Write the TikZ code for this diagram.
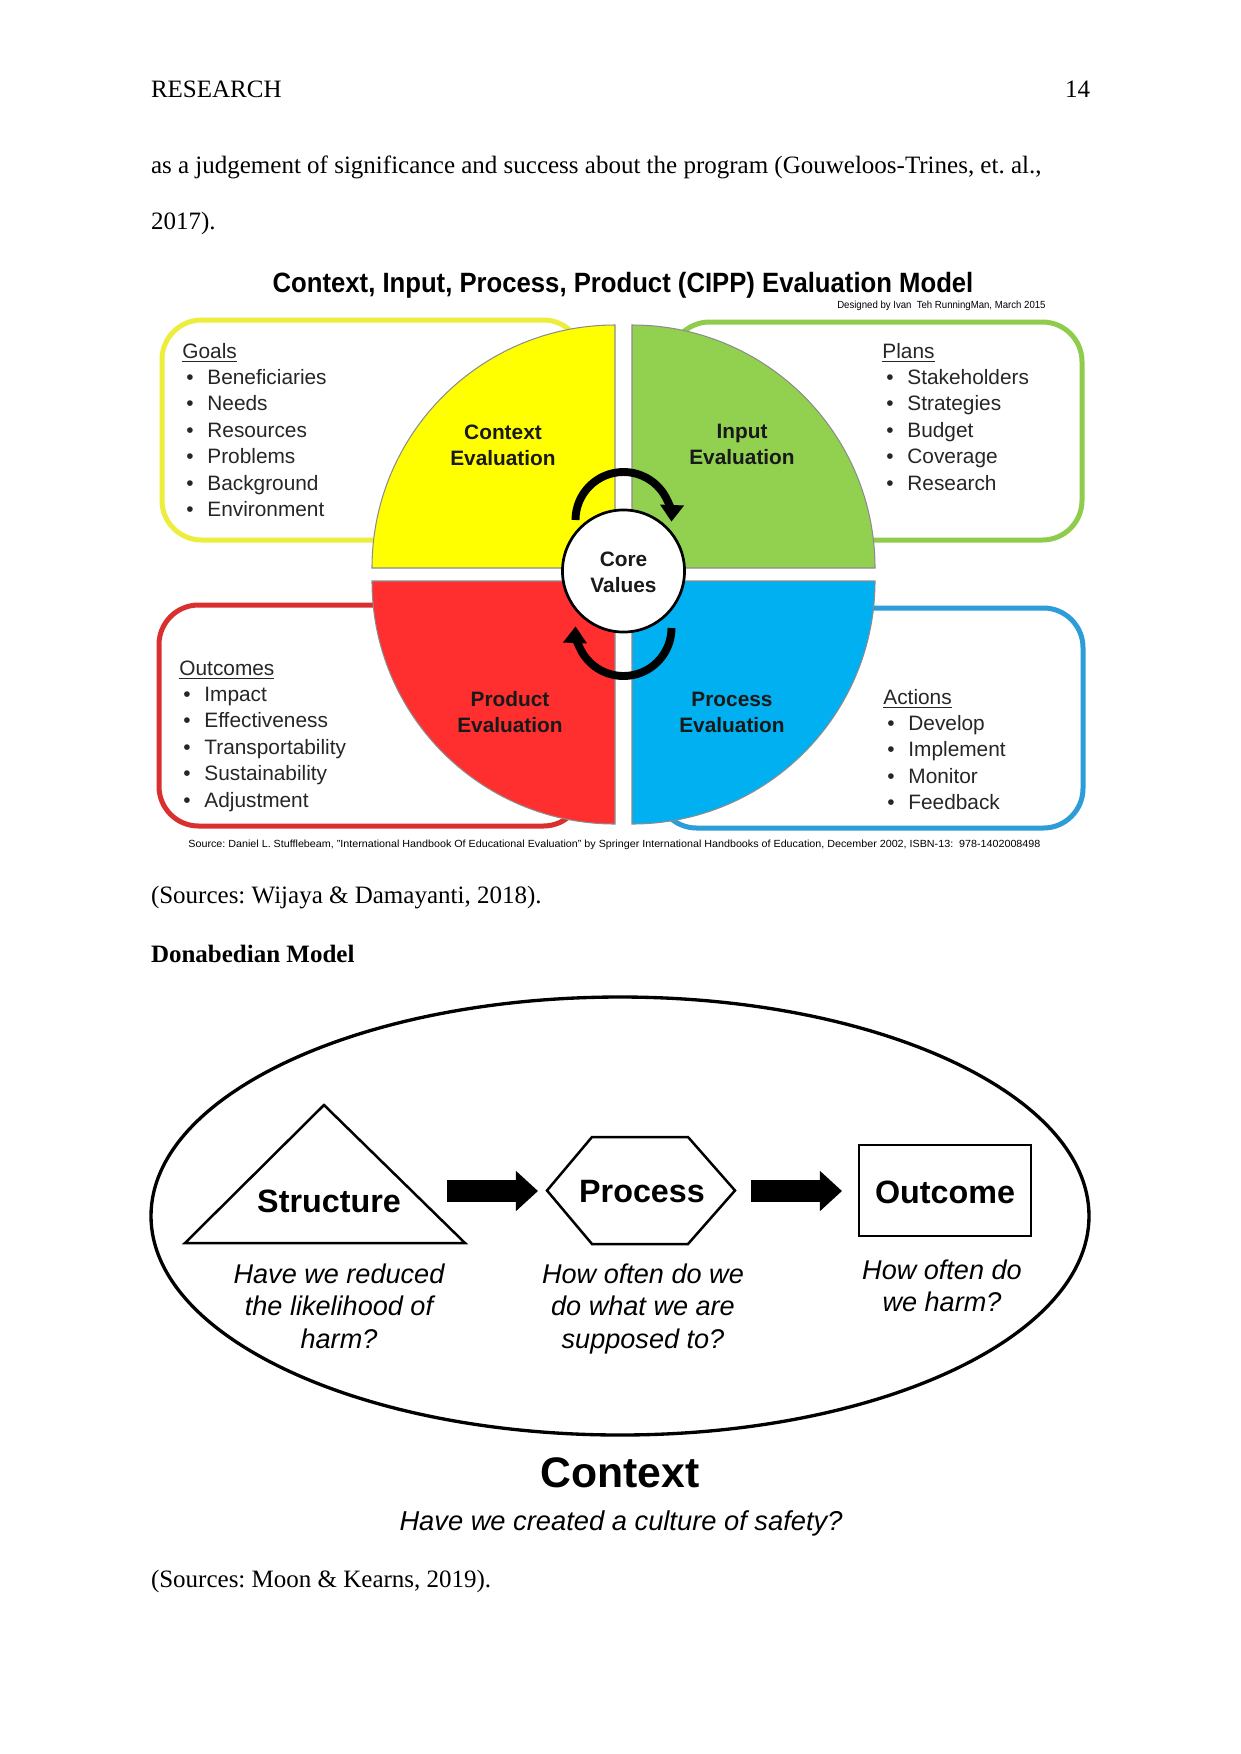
\documentclass[tikz,border=0pt]{standalone}
\usepackage{fontspec}
\setmainfont{Liberation Serif}
\setsansfont{Liberation Sans}
\usetikzlibrary{arrows.meta}
\frenchspacing
\newcommand\stk[2][c]{\begin{tabular}[t]{@{}#1@{}}#2\end{tabular}}
\newcommand\bul{\hspace*{1.9pt}\makebox[10.1pt][l]{\textbullet}}
\definecolor{qyellow}{HTML}{FFFF00}
\definecolor{qgreen}{HTML}{92D050}
\definecolor{qred}{HTML}{FF2F2F}
\definecolor{qblue}{HTML}{00B0F0}
\definecolor{byellow}{HTML}{EDED3C}
\definecolor{bgreen}{HTML}{8FCC4C}
\definecolor{bred}{HTML}{D9302F}
\definecolor{bblue}{HTML}{2C9DD8}
\begin{document}
\begin{tikzpicture}[x=0.48pt,y=-0.48pt,
  body/.style={font=\rmfamily\fontsize{12}{14}\selectfont, inner sep=0, outer sep=0},
  qlab/.style={font=\sffamily\bfseries\fontsize{10}{12.7}\selectfont, anchor=base, inner sep=0, text=black!90},
  lst/.style={font=\sffamily\fontsize{10}{12.7}\selectfont, anchor=base west, inner sep=0, text=black!85},
  quad/.style={draw=black!45, line width=0.5pt},
  bx/.style={line width=2.4pt, rounded corners=19pt},
  cyc/.style={line width=3.8pt, -{Triangle[width=11pt,length=8pt]}},
  shp/.style={line width=1.2pt, line join=miter},
  dlab/.style={font=\sffamily\bfseries\fontsize{15.5}{18}\selectfont, anchor=base, inner sep=0},
  capt/.style={font=\sffamily\itshape\fontsize{13}{15.6}\selectfont, anchor=base, inner sep=0},
  blk/.style={line width=10.6pt, -{Triangle[width=18.7pt,length=10.6pt]}}]
\fill[white] (0,0) rectangle (1241,1754);
\useasboundingbox (0,0) rectangle (1241,1754);

% page text
\node[body, anchor=base west] (hdr) at (151,97) {RESEARCH};
\node[body, anchor=base east] (pg) at (1090,97) {14};
\node[body, anchor=base west] (p1) at (151,173) {as a judgement of significance and success about the program (Gouweloos-Trines, et. al.,};
\node[body, anchor=base west] (p2) at (151,229) {2017).};

% CIPP title
\node[anchor=base, inner sep=0, font=\sffamily\bfseries\fontsize{13.4}{16}\selectfont] (title) at (623,292)
  {\scalebox{0.92}[1]{Context, Input, Process, Product (CIPP) Evaluation Model}};
\node[anchor=base east, inner sep=0, font=\sffamily] (designed) at (1046,308)
  {\resizebox{100pt}{3.6pt}{Designed by Ivan\ \ Teh RunningMan, March 2015}};

% outer boxes
\draw[bx, draw=byellow] (162,320) rectangle (583,540);
\draw[bx, draw=bgreen] (670,322) rectangle (1082,540);
\draw[bx, draw=bred] (159,605) rectangle (583,826);
\draw[bx, draw=bblue] (657,608) rectangle (1083,828);

% quadrants
\filldraw[quad, fill=qyellow] (615,568) -- (615,325) arc[start angle=270, end angle=180, radius=243] -- cycle;
\filldraw[quad, fill=qgreen] (632,568) -- (632,325) arc[start angle=270, end angle=360, radius=243] -- cycle;
\filldraw[quad, fill=qred] (615,581) -- (372,581) arc[start angle=180, end angle=90, radius=243] -- cycle;
\filldraw[quad, fill=qblue] (632,581) -- (875,581) arc[start angle=0, end angle=90, radius=243] -- cycle;

% core
\node[circle, draw, fill=white, line width=1.3pt, minimum size=58.6pt, inner sep=0,
  font=\sffamily\bfseries\fontsize{10}{12.7}\selectfont, text=black!90] (core) at (623.5,571) {\raisebox{2.4pt}[0pt][0pt]{\stk{Core\\Values}}};
\draw[cyc] (core.center) ++(-48,-51) arc[start angle=180, end angle=362, radius=48];
\draw[cyc] (core.center) ++(48,57) arc[start angle=0, end angle=182, radius=48];

% quadrant labels
\node[qlab] (ctx) at (503,439) {\stk{Context\\Evaluation}};
\node[qlab] (inp) at (742,438) {\stk{Input\\Evaluation}};
\node[qlab] (prod) at (510,706) {\stk{Product\\Evaluation}};
\node[qlab] (proc) at (732,706) {\stk{Process\\Evaluation}};

% lists
\node[lst] (goals) at (182,358) {\stk[l]{\underline{Goals}\\\bul Beneficiaries\\\bul Needs\\\bul Resources\\\bul Problems\\\bul Background\\\bul Environment}};
\node[lst] (plans) at (882,358) {\stk[l]{\underline{Plans}\\\bul Stakeholders\\\bul Strategies\\\bul Budget\\\bul Coverage\\\bul Research}};
\node[lst] (outc) at (179,675) {\stk[l]{\underline{Outcomes}\\\bul Impact\\\bul Effectiveness\\\bul Transportability\\\bul Sustainability\\\bul Adjustment}};
\node[lst] (acts) at (883,704) {\stk[l]{\underline{Actions}\\\bul Develop\\\bul Implement\\\bul Monitor\\\bul Feedback}};

\node[anchor=base west, inner sep=0, font=\sffamily] (srcline) at (188,847)
  {\resizebox{409pt}{3.6pt}{Source: Daniel L. Stufflebeam, "International Handbook Of Educational Evaluation" by Springer International Handbooks of Education, December 2002, ISBN-13:\ \ 978-1402008498}};

\node[body, anchor=base west] (src1) at (151,903) {(Sources: Wijaya \& Damayanti, 2018).};
\node[body, anchor=base west, font=\rmfamily\bfseries\fontsize{12}{14}\selectfont] (dm) at (151,962) {Donabedian Model};

% Donabedian
\draw[line width=1.6pt] (620,1216) ellipse [x radius=469, y radius=219];
\coordinate (tA) at (324,1105);
\coordinate (tB) at (185,1243);
\coordinate (tC) at (465,1243);
\draw[shp] (tA) -- (tB) -- (tC) -- cycle;
\draw[shp] (592,1137) -- (688,1137) -- (735,1190.5) -- (688,1244) -- (592,1244) -- (547,1190.5) -- cycle;
\draw[shp, line width=1.4pt] (859,1145) rectangle (1031,1236);

\node[dlab] (structure) at (329,1212) {Structure};
\node[dlab] (process) at (642,1202) {Process};
\node[dlab] (outcome) at (945,1203) {Outcome};

\coordinate (a1s) at (447,1191);
\coordinate (a1e) at (538,1191);
\coordinate (a2s) at (751,1191);
\coordinate (a2e) at (842,1191);
\draw[blk] (a1s) -- (a1e);
\draw[blk] (a2s) -- (a2e);

\node[capt] (capS) at (339,1283) {\stk{Have we reduced\\the likelihood of\\harm?}};
\node[capt] (capP) at (643,1283) {\stk{How often do we\\do what we are\\supposed to?}};
\node[capt] (capO) at (942,1279) {\stk{How often do\\we harm?}};

\node[anchor=base, inner sep=0, font=\sffamily\bfseries\fontsize{20.5}{24}\selectfont] (ctxlab) at (620,1487) {Context};
\node[anchor=base, inner sep=0, font=\sffamily\itshape\fontsize{13.1}{15}\selectfont] (ctxq) at (621,1530) {Have we created a culture of safety?};

\node[body, anchor=base west] (src2) at (151,1587) {(Sources: Moon \& Kearns, 2019).};
\end{tikzpicture}
\end{document}
